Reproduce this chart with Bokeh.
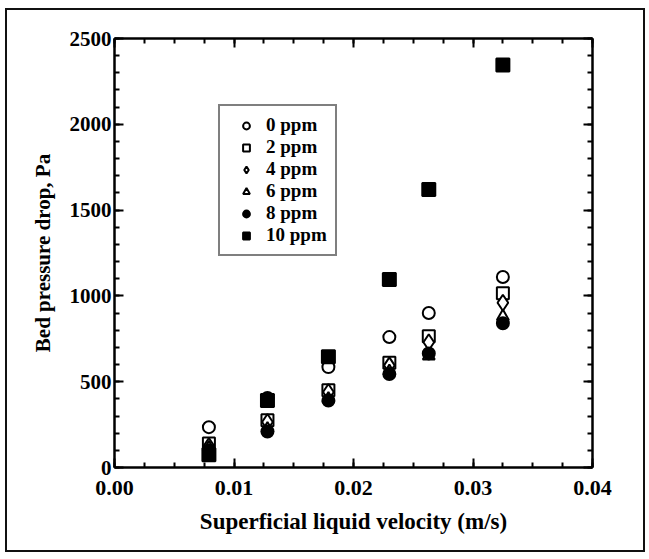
from bokeh.plotting import figure
from bokeh.models import (LinearAxis, FixedTicker, Range1d, Legend, LegendItem,
                          NumeralTickFormatter)
from bokeh.embed import file_html
from bokeh.resources import INLINE

velocity = [0.0079, 0.0128, 0.0179, 0.0230, 0.0263, 0.0325]
series_names = ["0 ppm", "2 ppm", "4 ppm", "6 ppm", "8 ppm", "10 ppm"]
dp_0 = [235, 405, 585, 760, 900, 1110]
dp_2 = [140, 275, 450, 610, 765, 1015]
dp_4 = [125, 265, 440, 595, 730, 960]
dp_6 = [115, 225, 400, 560, 650, 880]
dp_8 = [100, 210, 390, 545, 665, 840]
dp_10 = [75, 390, 645, 1095, 1620, 2345]
x_ticks = [0.0, 0.01, 0.02, 0.03, 0.04]
y_ticks = [0, 500, 1000, 1500, 2000, 2500]

FONT = "Liberation Serif"

p = figure(width=640, height=544, output_backend="svg", toolbar_location=None,
           x_range=Range1d(0, 0.04), y_range=Range1d(0, 2500),
           min_border_left=107, min_border_top=28, min_border_right=55,
           min_border_bottom=87, x_axis_location=None, y_axis_location=None)
p.grid.visible = False
p.outline_line_color = None
p.styles = {"border": "2px solid #111", "box-sizing": "border-box",
            "margin-left": "5px", "margin-top": "8px"}

x_minor = [i * 0.0025 for i in range(17)]
y_minor = [i * 100 for i in range(26)]


def make_axis(kind, loc, labels):
    ax = LinearAxis()
    if kind == "x":
        ax.ticker = FixedTicker(ticks=x_ticks, minor_ticks=x_minor)
        ax.formatter = NumeralTickFormatter(format="0.00")
        ax.major_label_text_font_size = "22px"
        ax.major_label_standoff = 13
    else:
        ax.ticker = FixedTicker(ticks=y_ticks, minor_ticks=y_minor)
        ax.formatter = NumeralTickFormatter(format="0")
        ax.major_label_text_font_size = "21px"
        ax.major_label_standoff = 3
    ax.axis_line_width = 2.5
    ax.axis_line_color = "black"
    ax.major_tick_in = 9
    ax.major_tick_out = 0
    ax.minor_tick_in = 5
    ax.minor_tick_out = 0
    ax.major_tick_line_width = 2
    ax.minor_tick_line_width = 2
    ax.major_tick_line_color = "black"
    ax.minor_tick_line_color = "black"
    ax.major_label_text_font = FONT
    ax.major_label_text_font_style = "bold"
    ax.major_label_text_color = "black"
    if not labels:
        ax.major_label_text_color = None
        ax.major_label_text_font_size = "0px"
        ax.major_label_standoff = 0
    p.add_layout(ax, loc)
    return ax


xb = make_axis("x", "below", True)
xb.axis_label = "Superficial liquid velocity (m/s)"
xb.axis_label_text_font = FONT
xb.axis_label_text_font_style = "bold"
xb.axis_label_text_font_size = "23px"
xb.axis_label_text_color = "black"
xb.axis_label_standoff = 11
yl = make_axis("y", "left", True)
yl.axis_label = "Bed pressure drop, Pa"
yl.axis_label_text_font = FONT
yl.axis_label_text_font_style = "bold"
yl.axis_label_text_font_size = "21px"
yl.axis_label_text_color = "black"
yl.axis_label_standoff = 12
make_axis("x", "above", False)
make_axis("y", "right", False)

all_series = [dp_0, dp_2, dp_4, dp_6, dp_8, dp_10]
styles = [
    dict(marker="circle", fill_color="white", size=12),
    dict(marker="square", fill_color="white", size=12),
    dict(marker="diamond", fill_color="white", size=16),
    dict(marker="triangle", fill_color="white", size=12),
    dict(marker="circle", fill_color="black", size=12),
    dict(marker="square", fill_color="black", size=13),
]
items = []
for name, vals, st in zip(series_names, all_series, styles):
    r = p.scatter(velocity, vals, marker=st["marker"], size=st["size"],
                  fill_color=st["fill_color"], line_color="black", line_width=2)
    items.append(LegendItem(label=name, renderers=[r]))

legend = Legend(items=items, location=(104, 211))
legend.label_text_font = FONT
legend.label_text_font_style = "bold"
legend.label_text_font_size = "19px"
legend.label_text_color = "black"
legend.border_line_color = "black"
legend.border_line_width = 2
legend.glyph_width = 36
legend.glyph_height = 17
legend.label_height = 17
legend.spacing = 0
legend.padding = 8
legend.margin = 0
legend.label_standoff = 2
p.add_layout(legend, "center")

open("out.html", "w").write(file_html(p, INLINE))
